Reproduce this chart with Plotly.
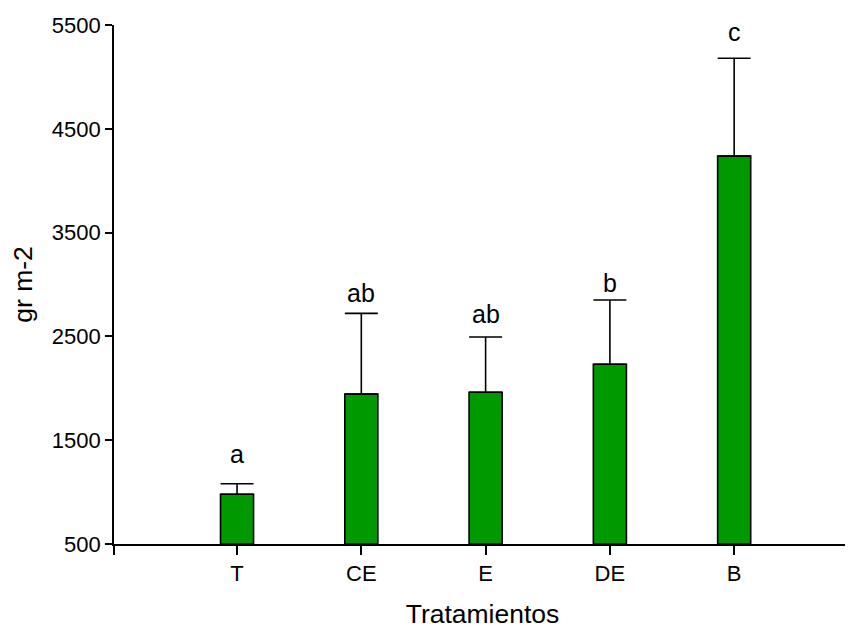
import plotly.graph_objects as go

categories = ["T", "CE", "E", "DE", "B"]
means = [980, 1945, 1962, 2232, 4238]
sem = [100, 777, 532, 619, 941]
sig_letters = ["a", "ab", "ab", "b", "c"]
sig_baseline = [1278, 2831, 2629, 2928, 5349]
y_ticks = [500, 1500, 2500, 3500, 4500, 5500]

x_pos = list(range(len(categories)))
FONT = "Liberation Sans, Arial, sans-serif"

fig = go.Figure()
fig.add_trace(go.Bar(
    x=x_pos, y=[m - 500 for m in means], base=500,
    width=0.266,
    marker=dict(color="#009900", line=dict(color="black", width=1.6)),
    error_y=dict(type="data", array=sem, arrayminus=[0]*len(sem),
                 symmetric=False, color="black", thickness=1.6, width=16.5),
    showlegend=False, hoverinfo="skip",
))

for i, (lab, yb) in enumerate(zip(sig_letters, sig_baseline)):
    fig.add_annotation(x=x_pos[i], y=yb, text=lab, showarrow=False,
                       xanchor="center", yanchor="bottom", yshift=-7,
                       font=dict(family=FONT, size=25, color="black"))

# page body has an 8px default margin, so the figure is offset by 8px
fig.update_layout(
    width=845, height=625,
    margin=dict(l=106, r=2, t=17, b=89),
    plot_bgcolor="white", paper_bgcolor="white",
    font=dict(family=FONT, color="black"),
)
fig.update_xaxes(
    range=[-0.99, 4.94],
    tickmode="array",
    tickvals=[-0.99] + x_pos, ticktext=[""] + categories,
    ticks="outside", ticklen=9, tickwidth=1.6, tickcolor="black",
    showline=True, linecolor="black", linewidth=1.8,
    showgrid=False, zeroline=False, automargin=False,
    tickfont=dict(family=FONT, size=22),
    title=dict(text="Tratamientos", font=dict(family=FONT, size=26.5), standoff=19),
)
fig.update_yaxes(
    range=[500, 5500],
    tickmode="array", tickvals=y_ticks,
    ticks="outside", ticklen=7, tickwidth=1.6, tickcolor="black",
    showline=True, linecolor="black", linewidth=1.8,
    showgrid=False, zeroline=False, automargin=False,
    tickfont=dict(family=FONT, size=22),
    title=dict(text="gr m-2", font=dict(family=FONT, size=26.5), standoff=17),
)

fig.write_html("out.html")
